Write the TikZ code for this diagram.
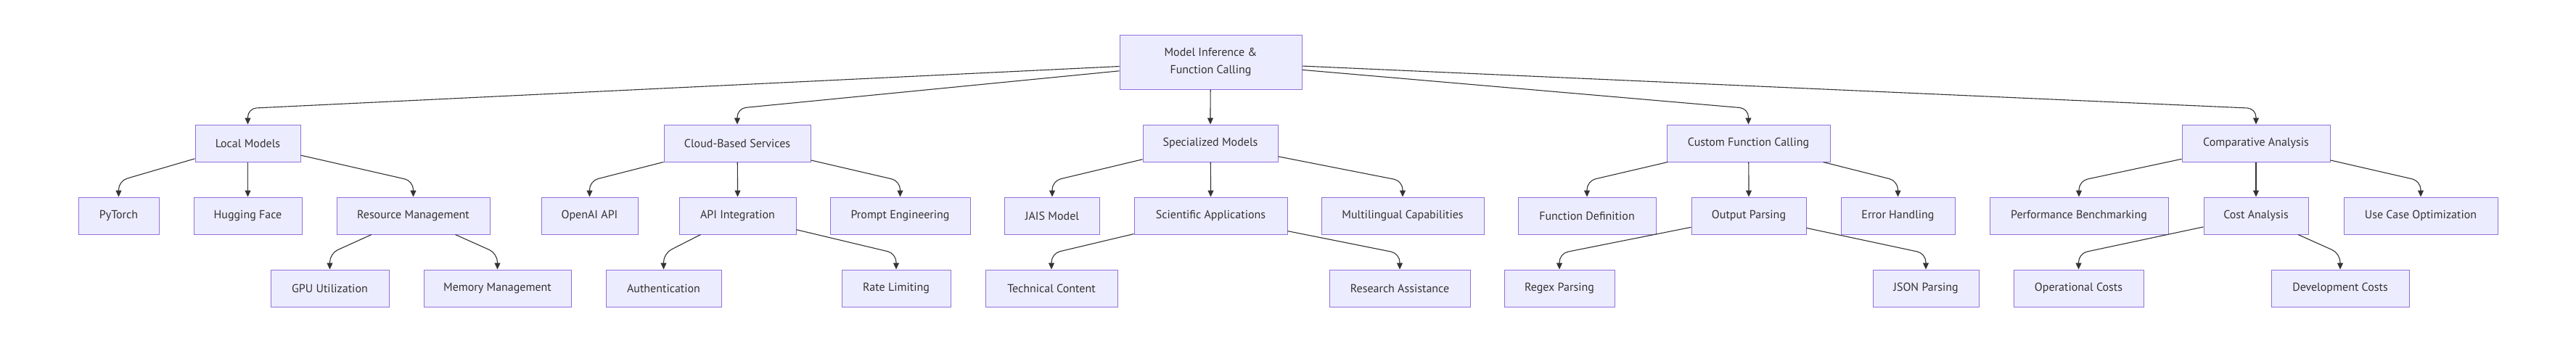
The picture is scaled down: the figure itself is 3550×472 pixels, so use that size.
\documentclass[tikz,border=0pt]{standalone}
\usepackage{fontspec}
\setmainfont{PT Sans}
\usetikzlibrary{arrows.meta, positioning}
\definecolor{boxfill}{HTML}{ECECFF}
\definecolor{boxline}{HTML}{9370DB}
\definecolor{ink}{HTML}{333333}

\begin{document}
\begin{tikzpicture}[x=1pt, y=1pt]
\tikzset{
  box/.style={draw=boxline, fill=boxfill, line width=1pt, text=ink,
    minimum height=51pt, inner sep=0pt, font=\fontsize{16}{24}\selectfont},
  link/.style={draw=ink, line width=1.1pt, rounded corners=12pt,
    -{Triangle[length=9pt,width=8pt]}}
}
\useasboundingbox (0,0) rectangle (3550,-472);

% root
\node[box, minimum width=251pt, minimum height=75pt, align=center] (root) at (1668.5,-85.5) {Model Inference \&\\Function Calling};

% first level
\node[box, minimum width=145pt] (local) at (341.5,-197.5) {Local Models};
\node[box, minimum width=202pt] (cloud) at (1016,-197.5) {Cloud-Based Services};
\node[box, minimum width=186pt] (special) at (1668,-197.5) {Specialized Models};
\node[box, minimum width=225pt] (custom) at (2409.5,-197.5) {Custom Function Calling};
\node[box, minimum width=204pt] (compare) at (3109,-197.5) {Comparative Analysis};

% second level
\node[box, minimum width=111pt] (torch) at (163.5,-297.5) {PyTorch};
\node[box, minimum width=149pt] (hface) at (341.5,-297.5) {Hugging Face};
\node[box, minimum width=211pt] (resmgmt) at (569.5,-297.5) {Resource Management};
\node[box, minimum width=133pt] (openai) at (812.5,-297.5) {OpenAI API};
\node[box, minimum width=161pt] (apiint) at (1016.5,-297.5) {API Integration};
\node[box, minimum width=193pt] (prompt) at (1240.5,-297.5) {Prompt Engineering};
\node[box, minimum width=131pt] (jais) at (1450,-297.5) {JAIS Model};
\node[box, minimum width=211pt] (sciapp) at (1668.5,-297.5) {Scientific Applications};
\node[box, minimum width=224pt] (multi) at (1933,-297.5) {Multilingual Capabilities};
\node[box, minimum width=190pt] (funcdef) at (2187,-297.5) {Function Definition};
\node[box, minimum width=158pt] (outparse) at (2410,-297.5) {Output Parsing};
\node[box, minimum width=157pt] (errors) at (2615.5,-297.5) {Error Handling};
\node[box, minimum width=246pt] (bench) at (2865,-297.5) {Performance Benchmarking};
\node[box, minimum width=144pt] (cost) at (3109,-297.5) {Cost Analysis};
\node[box, minimum width=212pt] (usecase) at (3336,-297.5) {Use Case Optimization};

% third level
\node[box, minimum width=163pt] (gpu) at (454.5,-397.5) {GPU Utilization};
\node[box, minimum width=203pt] (memory) at (685.5,-397.5) {Memory Management};
\node[box, minimum width=159pt] (auth) at (914.5,-397.5) {Authentication};
\node[box, minimum width=150pt] (rate) at (1235,-397.5) {Rate Limiting};
\node[box, minimum width=182pt] (techc) at (1449,-397.5) {Technical Content};
\node[box, minimum width=194pt] (research) at (1929,-397.5) {Research Assistance};
\node[box, minimum width=152pt] (regex) at (2149,-397.5) {Regex Parsing};
\node[box, minimum width=146pt] (json) at (2654,-397.5) {JSON Parsing};
\node[box, minimum width=179pt] (opcost) at (2864.5,-397.5) {Operational Costs};
\node[box, minimum width=190pt] (devcost) at (3225,-397.5) {Development Costs};

% connectors
\foreach \a/\b in {root/local, root/cloud, root/special, root/custom, root/compare,
    local/torch, local/hface, local/resmgmt,
    cloud/openai, cloud/apiint, cloud/prompt,
    special/jais, special/sciapp, special/multi,
    custom/funcdef, custom/outparse, custom/errors,
    compare/bench, compare/cost, compare/usecase,
    resmgmt/gpu, resmgmt/memory, apiint/auth, apiint/rate,
    sciapp/techc, sciapp/research, outparse/regex, outparse/json,
    cost/opcost, cost/devcost}
  \draw[link] (\a) -- ([yshift=22pt]\b.north) -- (\b.north);
\end{tikzpicture}
\end{document}
